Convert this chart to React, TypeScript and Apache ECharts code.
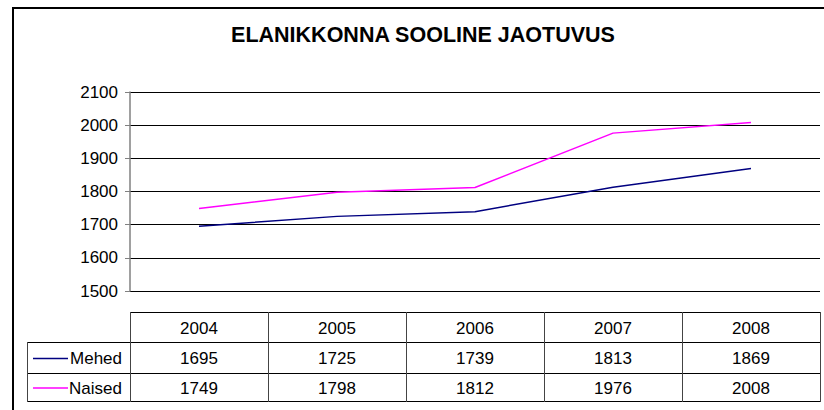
import React, { useEffect, useRef } from "react";
import * as echarts from "echarts";

const categories = ["2004", "2005", "2006", "2007", "2008"];
const mehed = [1695, 1725, 1739, 1813, 1869];
const naised = [1749, 1798, 1812, 1976, 2008];
const seriesNames = ["Mehed", "Naised"];
const seriesColors = ["#000080", "#FF00FF"];
const yMin = 1500;
const yMax = 2100;
const yInterval = 100;
const titleText = "ELANIKKONNA SOOLINE JAOTUVUS";

const W = 824;
const H = 410;
const FONT = "'Liberation Sans', Arial, sans-serif";

export default function App() {
  const ref = useRef<HTMLDivElement>(null);
  useEffect(() => {
    if (!ref.current) return;
    const chart = echarts.init(ref.current, undefined, { renderer: "svg" });

    const gridLeft = 130;
    const gridRight = 820;
    const gridTop = 92;
    const gridBottom = 291;
    const rowsY = [312, 342, 373, 401];
    const legendLeft = 27;
    const colW = (gridRight - gridLeft) / categories.length;
    const rows = [mehed, naised];

    const graphics: any[] = [];
    // outer border
    graphics.push({
      type: "rect",
      shape: { x: 13, y: 8, width: 900, height: 500 },
      style: { fill: "none", stroke: "#000", lineWidth: 2 },
      silent: true,
    });
    const hl = (y: number, x1: number, x2: number, color = "#000") =>
      graphics.push({
        type: "line",
        shape: { x1, y1: y + 0.5, x2, y2: y + 0.5 },
        style: { stroke: color, lineWidth: 1 },
        silent: true,
      });
    const vl = (x: number, y1: number, y2: number, color = "#444") =>
      graphics.push({
        type: "line",
        shape: { x1: x + 0.5, y1, x2: x + 0.5, y2 },
        style: { stroke: color, lineWidth: 1 },
        silent: true,
      });
    hl(rowsY[0], gridLeft, gridRight);
    hl(rowsY[1], legendLeft, gridRight);
    hl(rowsY[2], legendLeft, gridRight);
    hl(rowsY[3], legendLeft, gridRight);
    vl(legendLeft, rowsY[1], rowsY[3] + 1);
    for (let i = 0; i <= categories.length; i++) {
      vl(gridLeft + i * colW, rowsY[0], rowsY[3] + 1);
    }
    const txt = (text: string, x: number, y: number, align = "center") =>
      graphics.push({
        type: "text",
        x,
        y,
        style: {
          text,
          fill: "#000",
          font: `17px ${FONT}`,
          align,
          verticalAlign: "middle",
        },
        silent: true,
      });
    categories.forEach((c, i) => {
      txt(c, gridLeft + (i + 0.5) * colW, (rowsY[0] + rowsY[1]) / 2 + 1);
    });
    rows.forEach((vals, r) => {
      const cy = (rowsY[r + 1] + rowsY[r + 2]) / 2 + 1;
      vals.forEach((v, i) => {
        txt(String(v), gridLeft + (i + 0.5) * colW, cy);
      });
      graphics.push({
        type: "line",
        shape: { x1: 33, y1: cy, x2: 68, y2: cy },
        style: { stroke: seriesColors[r], lineWidth: 1.5 },
        silent: true,
      });
      txt(seriesNames[r], 122, cy, "right");
    });
    graphics.push({
      type: "text",
      x: 423,
      y: 35,
      style: {
        text: titleText,
        fill: "#000",
        font: `bold 21.5px ${FONT}`,
        align: "center",
        verticalAlign: "middle",
      },
      silent: true,
    });

    chart.setOption({
      animation: false,
      backgroundColor: "#fff",
      grid: {
        left: gridLeft,
        right: W - gridRight,
        top: gridTop,
        bottom: H - gridBottom,
        containLabel: false,
      },
      xAxis: {
        type: "category",
        data: categories,
        boundaryGap: true,
        axisLine: { show: false },
        axisTick: { show: false },
        axisLabel: { show: false },
        splitLine: { show: false },
      },
      yAxis: {
        type: "value",
        min: yMin,
        max: yMax,
        interval: yInterval,
        axisLine: { show: true, lineStyle: { color: "#808080", width: 1.5 } },
        axisTick: { show: true, length: 5, lineStyle: { color: "#808080" } },
        axisLabel: {
          color: "#000",
          fontSize: 17,
          fontFamily: FONT,
          margin: 12,
          formatter: (v: number) => String(v),
        },
        splitLine: { show: true, lineStyle: { color: "#000", width: 1 } },
      },
      series: [
        {
          name: seriesNames[0],
          type: "line",
          data: mehed,
          symbol: "none",
          lineStyle: { color: seriesColors[0], width: 1.5 },
          itemStyle: { color: seriesColors[0] },
        },
        {
          name: seriesNames[1],
          type: "line",
          data: naised,
          symbol: "none",
          lineStyle: { color: seriesColors[1], width: 1.5 },
          itemStyle: { color: seriesColors[1] },
        },
      ],
      graphic: graphics,
    });
    return () => chart.dispose();
  }, []);
  return (
    <div
      ref={ref}
      style={{ position: "fixed", left: 0, top: 0, width: W, height: H }}
    />
  );
}
